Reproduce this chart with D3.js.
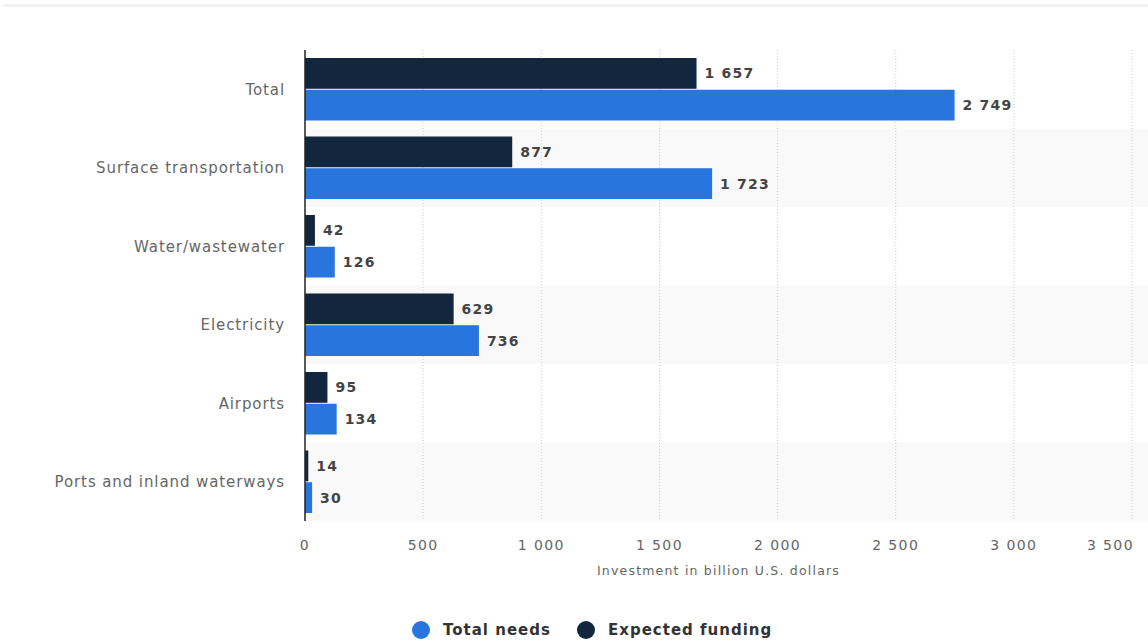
<!DOCTYPE html>
<html>
<head>
<meta charset="utf-8">
<script src="https://cdn.jsdelivr.net/npm/d3@7"></script>
<style>
  body { margin: 0; background: #fff; }
  text { font-family: "DejaVu Sans", Verdana, sans-serif; }
</style>
</head>
<body>
<svg id="chart" width="1148" height="641"></svg>
<script>
// chart data
const categories = ["Total", "Surface transportation", "Water/wastewater", "Electricity", "Airports", "Ports and inland waterways"];
const expectedFunding = [1657, 877, 42, 629, 95, 14];
const totalNeeds = [2749, 1723, 126, 736, 134, 30];
const xTicks = [0, 500, 1000, 1500, 2000, 2500, 3000, 3500];

const width = 1148;
const height = 641;
const margin = { top: 50, right: 14, bottom: 120, left: 305 };

const svg = d3.select("#chart");

// thin strip at the very top
svg.append("rect")
  .attr("x", 3).attr("y", 4)
  .attr("width", width - 3).attr("height", 3)
  .attr("fill", "#f2f2f2");

const x = d3.scaleLinear()
  .domain([0, 3500])
  .range([margin.left, 1132]);

const y = d3.scaleBand()
  .domain(categories)
  .range([margin.top, height - margin.bottom])
  .paddingInner(0);

const series = ["expected", "needs"];
const ySub = d3.scaleBand()
  .domain(series)
  .range([8, y.bandwidth() - 8])
  .paddingInner(0.03);

const fmt = (v) => d3.format(",")(v).replace(/,/g, " ");

// alternating band shading
svg.append("g")
  .selectAll("rect")
  .data(categories.filter((d, i) => i % 2 === 1))
  .join("rect")
  .attr("x", margin.left)
  .attr("y", (d) => y(d))
  .attr("width", width - margin.left)
  .attr("height", y.bandwidth())
  .attr("fill", "#f9f9f9");

// grid lines
svg.append("g")
  .selectAll("line")
  .data(xTicks.slice(1))
  .join("line")
  .attr("x1", (d) => x(d)).attr("x2", (d) => x(d))
  .attr("y1", margin.top).attr("y2", height - margin.bottom)
  .attr("stroke", "#cfcfcf")
  .attr("stroke-dasharray", "1,2");

const rows = categories.map((c, i) => ({
  cat: c,
  expected: expectedFunding[i],
  needs: totalNeeds[i]
}));

const colors = { expected: "#12263d", needs: "#2876dd" };

const groups = svg.append("g")
  .selectAll("g")
  .data(rows)
  .join("g")
  .attr("transform", (d) => `translate(0,${y(d.cat)})`);

series.forEach((s) => {
  groups.append("rect")
    .attr("x", x(0))
    .attr("y", ySub(s))
    .attr("width", (d) => x(d[s]) - x(0))
    .attr("height", ySub.bandwidth())
    .attr("fill", colors[s]);

  groups.append("text")
    .attr("x", (d) => x(d[s]) + 8)
    .attr("y", ySub(s) + ySub.bandwidth() / 2)
    .attr("dy", "0.35em")
    .attr("font-size", 14)
    .attr("font-weight", "bold")
    .attr("letter-spacing", 1.2)
    .attr("fill", "#444")
    .text((d) => fmt(d[s]));
});

// category labels
svg.append("g")
  .selectAll("text")
  .data(categories)
  .join("text")
  .attr("x", margin.left - 20)
  .attr("y", (d) => y(d) + y.bandwidth() / 2)
  .attr("dy", "0.35em")
  .attr("text-anchor", "end")
  .attr("font-size", 15)
  .attr("letter-spacing", 0.9)
  .attr("fill", "#666")
  .text((d) => d);

// y axis line
svg.append("line")
  .attr("x1", margin.left).attr("x2", margin.left)
  .attr("y1", margin.top).attr("y2", height - margin.bottom)
  .attr("stroke", "#222")
  .attr("stroke-width", 1.5);

// x tick labels (last one kept inside the frame)
svg.append("g")
  .selectAll("text")
  .data(xTicks)
  .join("text")
  .attr("x", (d, i) => (i === xTicks.length - 1 ? 1134 : x(d)))
  .attr("y", 550)
  .attr("text-anchor", (d, i) => (i === xTicks.length - 1 ? "end" : "middle"))
  .attr("font-size", 14)
  .attr("letter-spacing", 1.4)
  .attr("fill", "#666")
  .text((d) => fmt(d));

svg.append("text")
  .attr("x", (x(0) + x(3500)) / 2)
  .attr("y", 575)
  .attr("text-anchor", "middle")
  .attr("font-size", 12.5)
  .attr("letter-spacing", 1.2)
  .attr("fill", "#666")
  .text("Investment in billion U.S. dollars");

// legend
const legendItems = [
  { label: "Total needs", color: colors.needs, cx: 421 },
  { label: "Expected funding", color: colors.expected, cx: 586 }
];
const legend = svg.append("g")
  .selectAll("g")
  .data(legendItems)
  .join("g")
  .attr("transform", (d) => `translate(${d.cx},630)`);
legend.append("circle").attr("r", 9).attr("fill", (d) => d.color);
legend.append("text")
  .attr("x", 22)
  .attr("dy", "0.35em")
  .attr("font-size", 15)
  .attr("font-weight", "bold")
  .attr("letter-spacing", 1)
  .attr("fill", "#333")
  .text((d) => d.label);
</script>
</body>
</html>
